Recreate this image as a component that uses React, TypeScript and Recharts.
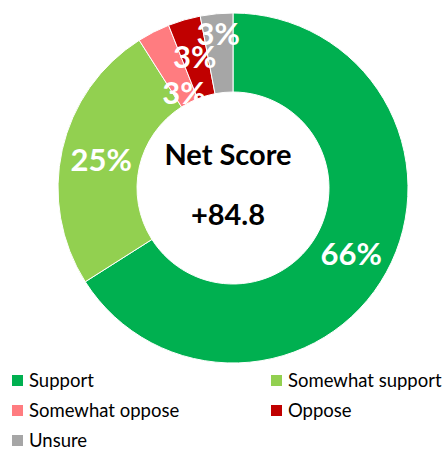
import { PieChart, Pie, Cell, Legend } from 'recharts';

const categories = ['Support', 'Somewhat support', 'Somewhat oppose', 'Oppose', 'Unsure'];
const shares = [66, 25, 3, 3, 3];
const centerTitle = 'Net Score';
const netScore = '+84.8';

const COLORS = ['#00B050', '#92D050', '#FF7C80', '#C00000', '#A6A6A6'];
// Excel nudged the small labels around; distance from centre per slice
const LABEL_RADIUS = [135, 135, 108, 137, 156];
const FONT = 'Lato, "Open Sans", sans-serif';
const CX = 228;
const CY = 183;

const data = categories.map((name, i) => ({ name, value: shares[i] }));

const RAD = Math.PI / 180;

const renderLabel = (props: any) => {
  const { cx, cy, midAngle, index, value } = props;
  const r = LABEL_RADIUS[index];
  const x = cx + r * Math.cos(-midAngle * RAD);
  const y = cy + r * Math.sin(-midAngle * RAD);
  return (
    <text
      x={x}
      y={y}
      fill="#fff"
      textAnchor="middle"
      dominantBaseline="central"
      fontFamily={FONT}
      fontWeight={700}
      fontSize={31}
    >
      {value}%
    </text>
  );
};

const LegendContent = () => (
  <div
    style={{
      display: 'grid',
      gridTemplateColumns: '259px 180px',
      rowGap: 8,
      fontFamily: FONT,
      fontSize: 18.5,
      color: '#000',
    }}
  >
    {categories.map((name, i) => (
      <div key={name} style={{ display: 'flex', alignItems: 'center', height: 22 }}>
        <span
          style={{
            display: 'inline-block',
            width: 11,
            height: 11,
            background: COLORS[i],
            marginRight: 6,
          }}
        />
        {name}
      </div>
    ))}
  </div>
);

export default function App() {
  return (
    <div style={{ position: 'absolute', left: 0, top: 0, width: 447, height: 450, background: '#fff' }}>
      <PieChart width={447} height={450}>
        <Pie
          data={data}
          dataKey="value"
          nameKey="name"
          cx={CX}
          cy={CY}
          innerRadius={96}
          outerRadius={175}
          startAngle={90}
          endAngle={-270}
          stroke="#fff"
          strokeWidth={1}
          label={renderLabel}
          labelLine={false}
          isAnimationActive={false}
        >
          {data.map((d, i) => (
            <Cell key={d.name} fill={COLORS[i]} />
          ))}
        </Pie>
        <Legend
          content={LegendContent}
          wrapperStyle={{ position: 'absolute', left: 12, top: 369, width: 440 }}
        />
      </PieChart>
      <div
        style={{
          position: 'absolute',
          left: CX - 80,
          top: CY - 59,
          width: 160,
          textAlign: 'center',
          fontFamily: FONT,
          fontWeight: 700,
          fontSize: 29,
          lineHeight: '60px',
          color: '#000',
        }}
      >
        <div>{centerTitle}</div>
        <div>{netScore}</div>
      </div>
    </div>
  );
}
